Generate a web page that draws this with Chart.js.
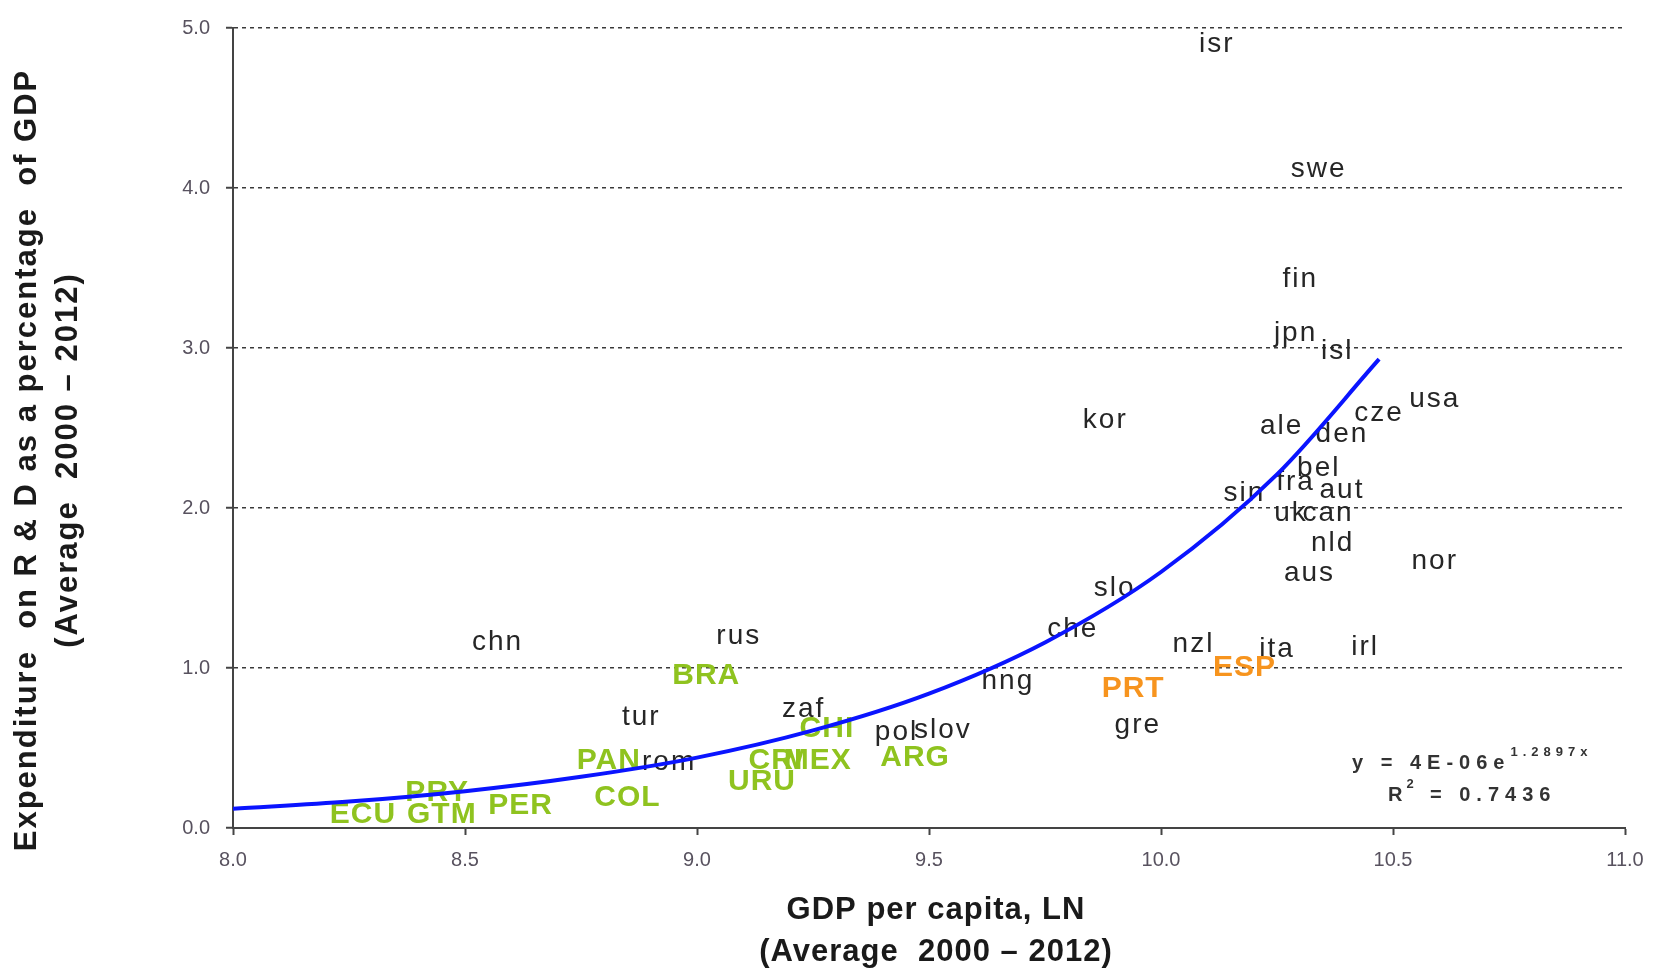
<!DOCTYPE html>
<html>
<head>
<meta charset="utf-8">
<script src="https://cdn.jsdelivr.net/npm/chart.js@4/dist/chart.umd.min.js"></script>
<style>
  html, body { margin: 0; padding: 0; background: #ffffff; }
  #c { display: block; }
</style>
</head>
<body>
<canvas id="c" width="1659" height="969"></canvas>
<script>
// ---- Data ----
// OECD / other countries (black labels)
const blackCodes = ['isr','swe','fin','jpn','isl','kor','ale','cze','usa','den','bel','fra','aut','sin','uk','can','nld','nor','aus','slo','che','nzl','ita','irl','hng','gre','pol','slov','zaf','tur','rus','chn','rom'];
const blackX = [10.12,10.34,10.30,10.29,10.38,9.88,10.26,10.47,10.59,10.39,10.34,10.29,10.39,10.18,10.28,10.36,10.37,10.59,10.32,9.90,9.81,10.07,10.25,10.44,9.67,9.95,9.43,9.53,9.23,8.88,9.09,8.57,8.94];
const blackY = [4.90,4.12,3.43,3.09,2.98,2.55,2.51,2.59,2.68,2.46,2.25,2.16,2.11,2.09,1.97,1.97,1.78,1.67,1.59,1.50,1.24,1.15,1.12,1.13,0.92,0.64,0.60,0.61,0.74,0.69,1.20,1.16,0.41];

// Latin American countries (green labels)
const greenCodes = ['BRA','CHI','MEX','CRI','ARG','URU','PAN','COL','PER','PRY','GTM','ECU'];
const greenX = [9.02,9.28,9.26,9.17,9.47,9.14,8.81,8.85,8.62,8.44,8.45,8.28];
const greenY = [0.95,0.62,0.42,0.42,0.44,0.29,0.42,0.19,0.14,0.22,0.08,0.08];

// Iberian countries (orange labels)
const orangeCodes = ['ESP','PRT'];
const orangeX = [10.18,9.94];
const orangeY = [1.00,0.87];

// Exponential trend line
const trendX = [8.0,8.25,8.5,8.75,9.0,9.25,9.5,9.75,10.0,10.25,10.47];
const trendY = [0.12,0.165,0.23,0.32,0.44,0.61,0.84,1.16,1.60,2.21,2.93];

// Axis definitions
const xMin = 8.0, xMax = 11.0, xStep = 0.5;
const yMin = 0.0, yMax = 5.0, yStep = 1.0;

const xTitle = ['GDP per capita, LN', '(Average  2000 \u2013 2012)'];
const yTitle = ['Expenditure  on R & D as a percentage  of GDP', '(Average  2000 \u2013 2012)'];
const eqMain = 'y = 4E-06e';
const eqExp = '1.2897x';
const r2Main = ['R', ' = 0.7436'];
const r2Exp = '2';

// ---- Build datasets ----
function pts(xs, ys) { return xs.map((x, i) => ({ x: x, y: ys[i] })); }

const FONT = '"Liberation Sans", Arial, sans-serif';

const labelPlugin = {
  id: 'codeLabels',
  beforeDatasetsDraw(chart) {
    const ctx = chart.ctx;
    chart.data.datasets.forEach((ds, di) => {
      if (!ds.codes) return;
      const meta = chart.getDatasetMeta(di);
      ctx.save();
      ctx.fillStyle = ds.labelColor;
      ctx.font = ds.labelFont;
      ctx.letterSpacing = ds.labelSpacing;
      ctx.textAlign = 'center';
      ctx.textBaseline = 'middle';
      meta.data.forEach((el, i) => {
        ctx.fillText(ds.codes[i], el.x, el.y);
      });
      ctx.restore();
    });
  }
};

const titlePlugin = {
  id: 'titles',
  afterDraw(chart) {
    const ctx = chart.ctx;
    const area = chart.chartArea;
    ctx.save();
    ctx.fillStyle = '#1a1a1a';
    ctx.textAlign = 'center';
    ctx.textBaseline = 'middle';
    // x title
    ctx.font = 'bold 31px ' + FONT;
    ctx.letterSpacing = '1px';
    const cx = (area.left + area.right) / 2 + 7;
    ctx.fillText(xTitle[0], cx, 910);
    ctx.fillText(xTitle[1], cx, 952);
    // y title
    ctx.save();
    ctx.rotate(-Math.PI / 2);
    ctx.letterSpacing = '2px';
    ctx.fillText(yTitle[0], -460, 27);
    ctx.fillText(yTitle[1], -460, 68);
    ctx.restore();
    // equation
    ctx.fillStyle = '#333333';
    ctx.textAlign = 'left';
    ctx.font = 'bold 20px ' + FONT;
    ctx.letterSpacing = '6px';
    ctx.fillText(eqMain, 1352, 763);
    let w = ctx.measureText(eqMain).width;
    ctx.font = 'bold 13px ' + FONT;
    ctx.letterSpacing = '5px';
    ctx.fillText(eqExp, 1352 + w, 752);
    ctx.font = 'bold 20px ' + FONT;
    ctx.letterSpacing = '6px';
    ctx.fillText(r2Main[0], 1388, 795);
    let w2 = ctx.measureText(r2Main[0]).width;
    ctx.font = 'bold 13px ' + FONT;
    ctx.fillText(r2Exp, 1388 + w2 - 2, 784);
    ctx.font = 'bold 20px ' + FONT;
    ctx.fillText(r2Main[1], 1388 + w2 + 10, 795);
    ctx.restore();
  }
};

const tickColor = '#58525f';

new Chart(document.getElementById('c'), {
  type: 'scatter',
  data: {
    datasets: [
      {
        label: 'trend', type: 'line', data: pts(trendX, trendY),
        borderColor: '#0a14ff', borderWidth: 4, pointRadius: 0,
        cubicInterpolationMode: 'monotone', fill: false, order: 0
      },
      {
        label: 'black', data: pts(blackX, blackY), codes: blackCodes,
        labelColor: '#262626', labelFont: '28px ' + FONT, labelSpacing: '2px',
        pointRadius: 0, order: 1
      },
      {
        label: 'green', data: pts(greenX, greenY), codes: greenCodes,
        labelColor: '#8fc31f', labelFont: 'bold 30px ' + FONT, labelSpacing: '1px',
        pointRadius: 0, order: 2
      },
      {
        label: 'orange', data: pts(orangeX, orangeY), codes: orangeCodes,
        labelColor: '#f7941e', labelFont: 'bold 30px ' + FONT, labelSpacing: '1px',
        pointRadius: 0, order: 3
      }
    ]
  },
  options: {
    responsive: false,
    animation: false,
    devicePixelRatio: 1,
    layout: { padding: { top: 26, right: 34, left: 0, bottom: 0 } },
    plugins: { legend: { display: false }, tooltip: { enabled: false } },
    scales: {
      x: {
        type: 'linear', min: xMin, max: xMax,
        afterFit(scale) { scale.height = 141; },
        ticks: {
          stepSize: xStep, color: tickColor, padding: 13,
          font: { family: FONT, size: 20 },
          callback: v => Number(v).toFixed(1), maxRotation: 0
        },
        grid: { drawOnChartArea: false, drawTicks: true, tickLength: 7, tickColor: '#444', tickWidth: 2 },
        border: { display: true, color: '#444', width: 2 }
      },
      y: {
        type: 'linear', min: yMin, max: yMax,
        afterFit(scale) { scale.width = 233; },
        ticks: {
          stepSize: yStep, color: tickColor, padding: 16,
          font: { family: FONT, size: 20 },
          callback: v => Number(v).toFixed(1)
        },
        grid: { drawOnChartArea: true, drawTicks: true, tickLength: 7, color: '#3a3a3a', lineWidth: 1.5, tickColor: '#444', tickWidth: 2, tickBorderDash: [] },
        border: { display: true, color: '#444', width: 2, dash: [4, 4] }
      }
    }
  },
  plugins: [labelPlugin, titlePlugin]
});
</script>
</body>
</html>
